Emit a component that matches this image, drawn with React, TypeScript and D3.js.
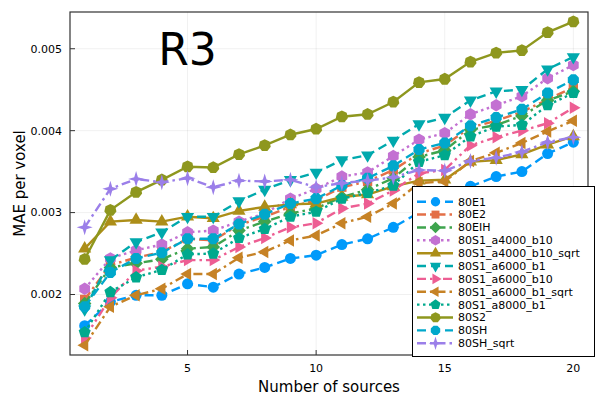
import * as d3 from "d3";
import { useEffect, useRef } from "react";

// number of sources (x)
const sources = [1, 2, 3, 4, 5, 6, 7, 8, 9, 10, 11, 12, 13, 14, 15, 16, 17, 18, 19, 20];

// MAE per voxel, one list per run
const e1 = [0.00162, 0.00191, 0.00199, 0.00199, 0.00213, 0.00209, 0.00225, 0.00233, 0.00244, 0.00248, 0.00261, 0.00268, 0.00282, 0.003, 0.00313, 0.00332, 0.00344, 0.0035, 0.00372, 0.00386];
const e2 = [0.00194, 0.00236, 0.00245, 0.00252, 0.00268, 0.00266, 0.00285, 0.00295, 0.00307, 0.00315, 0.00331, 0.00338, 0.00352, 0.00372, 0.00382, 0.00404, 0.00412, 0.00423, 0.00438, 0.00453];
const eih = [0.00189, 0.00233, 0.00238, 0.00243, 0.00256, 0.00258, 0.00278, 0.00289, 0.00299, 0.00305, 0.00319, 0.00328, 0.00342, 0.00368, 0.00376, 0.00401, 0.00407, 0.00418, 0.00437, 0.00448];
const s1a4000b10 = [0.00207, 0.00244, 0.00254, 0.00261, 0.00276, 0.00278, 0.00289, 0.00299, 0.00317, 0.00329, 0.00344, 0.00349, 0.00369, 0.00389, 0.00397, 0.0042, 0.00431, 0.00442, 0.00464, 0.0048];
const s1a4000b10sqrt = [0.00256, 0.00289, 0.00291, 0.00289, 0.00295, 0.00293, 0.00302, 0.00307, 0.0031, 0.00311, 0.00319, 0.00322, 0.00332, 0.00339, 0.0034, 0.00362, 0.00364, 0.00371, 0.00383, 0.00393];
const s1a6000b1 = [0.00182, 0.00242, 0.00264, 0.00276, 0.00295, 0.00295, 0.00314, 0.00328, 0.0034, 0.00349, 0.00364, 0.0037, 0.00388, 0.00408, 0.00416, 0.00437, 0.00448, 0.0045, 0.00475, 0.0049];
const s1a6000b10 = [0.00147, 0.00196, 0.00229, 0.00234, 0.00242, 0.00242, 0.00258, 0.00269, 0.00282, 0.00287, 0.00305, 0.00311, 0.00327, 0.00348, 0.00352, 0.00382, 0.00392, 0.004, 0.00409, 0.00428];
const s1a6000b1sqrt = [0.00138, 0.00185, 0.00199, 0.00207, 0.00225, 0.00225, 0.00245, 0.00252, 0.00266, 0.00272, 0.00287, 0.00295, 0.00311, 0.00336, 0.00338, 0.00363, 0.00373, 0.00385, 0.00399, 0.00412];
const s1a8000b1 = [0.00154, 0.00203, 0.00221, 0.0023, 0.00249, 0.0025, 0.00269, 0.0028, 0.00295, 0.00301, 0.00317, 0.00324, 0.00333, 0.00362, 0.0037, 0.00393, 0.00405, 0.00407, 0.00431, 0.00446];
const s2 = [0.00243, 0.00303, 0.00325, 0.0034, 0.00356, 0.00355, 0.00371, 0.00382, 0.00395, 0.00402, 0.00417, 0.0042, 0.00435, 0.00459, 0.00463, 0.00484, 0.00495, 0.00498, 0.0052, 0.00533];
const sh = [0.00185, 0.00227, 0.00244, 0.00251, 0.00268, 0.00268, 0.00286, 0.00298, 0.00311, 0.00317, 0.00333, 0.00342, 0.00357, 0.00377, 0.00385, 0.00406, 0.00416, 0.00426, 0.00446, 0.00462];
const shSqrt = [0.00282, 0.00329, 0.00341, 0.00337, 0.00342, 0.00331, 0.00339, 0.00338, 0.0034, 0.00331, 0.00336, 0.00339, 0.00343, 0.00352, 0.00351, 0.00363, 0.00367, 0.00374, 0.00386, 0.00392];

const names = ["80E1", "80E2", "80EIH", "80S1_a4000_b10", "80S1_a4000_b10_sqrt", "80S1_a6000_b1", "80S1_a6000_b10", "80S1_a6000_b1_sqrt", "80S1_a8000_b1", "80S2", "80SH", "80SH_sqrt"];
const values = [e1, e2, eih, s1a4000b10, s1a4000b10sqrt, s1a6000b1, s1a6000b10, s1a6000b1sqrt, s1a8000b1, s2, sh, shSqrt];
const colors = ["#009AFA", "#E36F47", "#3EA44E", "#C371D2", "#AC8E18", "#00A9AD", "#ED5E93", "#C68225", "#00A98D", "#8E971E", "#00A8CB", "#9B7FE9"];
const styles = ["dash", "dashdot", "dashdot", "dot", "solid", "dash", "dashdotdot", "dashdot", "dot", "solid", "dash", "dashdot"];
const shapes = ["circle", "rect", "diamond", "hexagon", "utriangle", "dtriangle", "rtriangle", "ltriangle", "pentagon", "heptagon", "octagon", "star4"];

const xTicks = [5, 10, 15, 20];
const yTicks = [0.002, 0.003, 0.004, 0.005];

const dashes = {
  solid: null,
  dash: "9,5",
  dot: "2.5,3.5",
  dashdot: "9,4,2.5,4",
  dashdotdot: "9,4,2.5,4,2.5,4",
};

function poly(n, r, rot, inner?) {
  const pts = [];
  const m = inner ? n * 2 : n;
  for (let i = 0; i < m; i++) {
    const a = rot + (i * 2 * Math.PI) / m;
    const rr = inner && i % 2 === 1 ? inner : r;
    pts.push([rr * Math.cos(a), rr * Math.sin(a)]);
  }
  return "M" + pts.map((p) => p[0].toFixed(2) + "," + p[1].toFixed(2)).join("L") + "Z";
}

function markerPath(shape) {
  const d = Math.PI / 180;
  switch (shape) {
    case "circle":
      return "M5.5,0A5.5,5.5 0 1 1 -5.5,0A5.5,5.5 0 1 1 5.5,0Z";
    case "rect":
      return poly(4, 6.6, 45 * d);
    case "diamond":
      return poly(4, 6.8, -90 * d);
    case "hexagon":
      return poly(6, 6.2, -90 * d);
    case "utriangle":
      return poly(3, 7.6, -90 * d);
    case "dtriangle":
      return poly(3, 7.6, 90 * d);
    case "rtriangle":
      return poly(3, 7.2, 0);
    case "ltriangle":
      return poly(3, 7.2, 180 * d);
    case "pentagon":
      return poly(5, 6.3, -90 * d);
    case "heptagon":
      return poly(7, 6.2, -90 * d);
    case "octagon":
      return poly(8, 6, 22.5 * d);
    case "star4":
      return poly(4, 8, -90 * d, 2.6);
  }
  return "";
}

export default function App() {
  const svgRef = useRef(null);

  useEffect(() => {
    const width = 600;
    const height = 400;
    const left = 70, right = 588, top = 12, bottom = 355;
    const font = "DejaVu Sans, sans-serif";

    const svg = d3.select(svgRef.current).attr("width", width).attr("height", height);
    svg.selectAll("*").remove();

    // widen the data limits by 3% like Plots.jl does
    const xExt = d3.extent(sources);
    const yExt = d3.extent(values.flat());
    const xPad = (xExt[1] - xExt[0]) * 0.03;
    const yPad = (yExt[1] - yExt[0]) * 0.03;

    const x = d3.scaleLinear().domain([xExt[0] - xPad, xExt[1] + xPad]).range([left, right]);
    const y = d3.scaleLinear().domain([yExt[0] - yPad, yExt[1] + yPad]).range([bottom, top]);

    svg.append("rect").attr("width", width).attr("height", height).attr("fill", "white");

    // grid
    const grid = svg.append("g").attr("stroke", "#000").attr("stroke-opacity", 0.1).attr("stroke-width", 0.6);
    xTicks.forEach((t) => grid.append("line").attr("x1", x(t)).attr("x2", x(t)).attr("y1", top).attr("y2", bottom));
    yTicks.forEach((t) => grid.append("line").attr("x1", left).attr("x2", right).attr("y1", y(t)).attr("y2", y(t)));

    // series
    const line = d3
      .line()
      .x((d) => x(d[0]))
      .y((d) => y(d[1]));

    const plot = svg.append("g");
    values.forEach((vals, i) => {
      const pts = sources.map((s, j) => [s, vals[j]]);
      plot
        .append("path")
        .attr("d", line(pts))
        .attr("fill", "none")
        .attr("stroke", colors[i])
        .attr("stroke-width", 2.4)
        .attr("stroke-dasharray", dashes[styles[i]]);
      plot
        .selectAll(null)
        .data(pts)
        .enter()
        .append("path")
        .attr("d", markerPath(shapes[i]))
        .attr("transform", (d) => `translate(${x(d[0])},${y(d[1])})`)
        .attr("fill", colors[i]);
    });

    // frame and inward ticks
    svg
      .append("rect")
      .attr("x", left)
      .attr("y", top)
      .attr("width", right - left)
      .attr("height", bottom - top)
      .attr("fill", "none")
      .attr("stroke", "#333")
      .attr("stroke-width", 1.2);

    const ax = svg.append("g").attr("stroke", "#333").attr("stroke-width", 1);
    xTicks.forEach((t) => ax.append("line").attr("x1", x(t)).attr("x2", x(t)).attr("y1", bottom).attr("y2", bottom - 5));
    yTicks.forEach((t) => ax.append("line").attr("x1", left).attr("x2", left + 5).attr("y1", y(t)).attr("y2", y(t)));

    svg
      .append("g")
      .selectAll("text")
      .data(xTicks)
      .enter()
      .append("text")
      .attr("x", (d) => x(d))
      .attr("y", 372)
      .attr("text-anchor", "middle")
      .style("font-family", font)
      .style("font-size", "11px")
      .text((d) => String(d));

    svg
      .append("g")
      .selectAll("text")
      .data(yTicks)
      .enter()
      .append("text")
      .attr("x", left - 8)
      .attr("y", (d) => y(d))
      .attr("dy", "0.35em")
      .attr("text-anchor", "end")
      .style("font-family", font)
      .style("font-size", "11px")
      .text((d) => d3.format(".3f")(d));

    svg
      .append("text")
      .attr("x", (left + right) / 2)
      .attr("y", 392)
      .attr("text-anchor", "middle")
      .style("font-family", font)
      .style("font-size", "15px")
      .text("Number of sources");

    svg
      .append("text")
      .attr("transform", `translate(25,${(top + bottom) / 2}) rotate(-90)`)
      .attr("text-anchor", "middle")
      .style("font-family", font)
      .style("font-size", "15px")
      .text("MAE per voxel");

    // annotation
    svg
      .append("text")
      .attr("x", x(5))
      .attr("y", y(0.005))
      .attr("dy", "0.36em")
      .attr("text-anchor", "middle")
      .style("font-family", font)
      .style("font-size", "44px")
      .text("R3");

    // legend
    const lg = svg.append("g");
    lg.append("rect")
      .attr("x", 412.5)
      .attr("y", 186.5)
      .attr("width", 182)
      .attr("height", 170)
      .attr("fill", "white")
      .attr("stroke", "#000")
      .attr("stroke-width", 1);
    names.forEach((name, i) => {
      const ly = 201.7 + i * 12.87;
      lg.append("line")
        .attr("x1", 417)
        .attr("x2", 453)
        .attr("y1", ly)
        .attr("y2", ly)
        .attr("stroke", colors[i])
        .attr("stroke-width", 2.4)
        .attr("stroke-dasharray", dashes[styles[i]]);
      lg.append("path")
        .attr("d", markerPath(shapes[i]))
        .attr("transform", `translate(435.5,${ly}) scale(0.85)`)
        .attr("fill", colors[i]);
      lg.append("text")
        .attr("x", 458)
        .attr("y", ly)
        .attr("dy", "0.35em")
        .style("font-family", font)
        .style("font-size", "11px")
        .text(name);
    });
  }, []);

  return (
    <div style={{ position: "absolute", left: 0, top: 0 }}>
      <svg ref={svgRef}></svg>
    </div>
  );
}
